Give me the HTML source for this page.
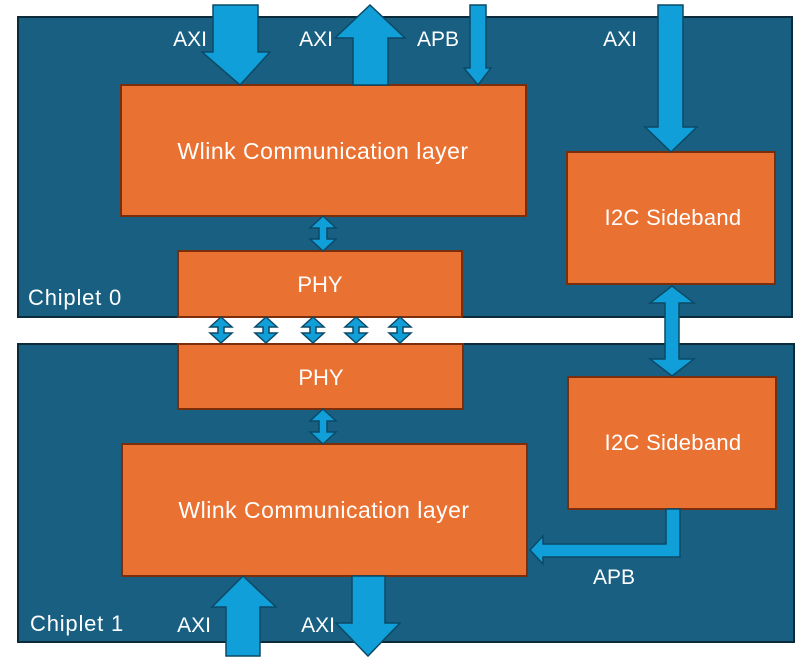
<!DOCTYPE html>
<html><head><meta charset="utf-8"><style>
html,body{margin:0;padding:0;background:#fff;}
svg{display:block;}
text{font-family:"Liberation Sans",sans-serif;fill:#fff;}
</style></head><body>
<svg width="810" height="662" viewBox="0 0 810 662" xmlns="http://www.w3.org/2000/svg">
<g stroke="#0b2a3a" stroke-width="2" fill="#185F82">
<rect x="18" y="17" width="774" height="300"/>
<rect x="18" y="344" width="776" height="298"/>
</g>
<g fill="#E97132" stroke="#7a2e0c" stroke-width="2">
<rect x="121" y="85" width="405" height="131"/>
<rect x="178" y="251" width="284" height="66"/>
<rect x="567" y="152" width="208" height="132"/>
<rect x="178" y="344" width="285" height="65"/>
<rect x="122" y="444" width="405" height="132"/>
<rect x="568" y="377" width="208" height="132"/>
</g>
<g fill="#109FD8" stroke="#0b4a66" stroke-width="1.5">
<polygon points="213,5 258,5 258,52 270,52 240,85 202,52 213,52"/>
<polygon points="370,5 405,38 388,38 388,85 353,85 353,38 335,38"/>
<polygon points="470,5 486,5 486,68 491,68 478,85 464,68 470,68"/>
<polygon points="658,5 683,5 683,127 697,127 671,152 645,127 658,127"/>
<polygon points="323,216 336,228 327,228 327,239 336,239 323,251 310,239 319,239 319,228 310,228"/>
<polygon points="323,409 336,421 327,421 327,432 336,432 323,444 310,432 319,432 319,421 310,421"/>
<polygon points="221,317 232,327 224,327 224,333 232,333 221,343 210,333 218,333 218,327 210,327"/>
<polygon points="266,317 277,327 269,327 269,333 277,333 266,343 255,333 263,333 263,327 255,327"/>
<polygon points="313,317 324,327 316,327 316,333 324,333 313,343 302,333 310,333 310,327 302,327"/>
<polygon points="356,317 367,327 359,327 359,333 367,333 356,343 345,333 353,333 353,327 345,327"/>
<polygon points="400,317 411,327 403,327 403,333 411,333 400,343 389,333 397,333 397,327 389,327"/>
<polygon points="672,286 694,303 679,303 679,359 694,359 672,376 650,359 665,359 665,303 650,303"/>
<polygon points="666,509 680,509 680,557 543,557 543,564 530,550 543,536 543,544 666,544"/>
<polygon points="243,576 276,607 260,607 260,656 226,656 226,607 212,607"/>
<polygon points="352,576 385,576 385,623 400,623 368,656 336,623 352,623"/>
</g>
<g font-size="22" text-anchor="middle">
<text x="323" y="159" font-size="23" letter-spacing="0.5">Wlink Communication layer</text>
<text x="324" y="518" font-size="23" letter-spacing="0.5">Wlink Communication layer</text>
<text x="320" y="292">PHY</text>
<text x="321" y="385">PHY</text>
<text x="673" y="225" letter-spacing="0.3">I2C Sideband</text>
<text x="673" y="450" letter-spacing="0.3">I2C Sideband</text>
<text x="190" y="46" font-size="21">AXI</text>
<text x="316" y="46" font-size="21">AXI</text>
<text x="438" y="46" font-size="21">APB</text>
<text x="620" y="46" font-size="21">AXI</text>
<text x="614" y="584" font-size="21">APB</text>
<text x="194" y="632" font-size="21">AXI</text>
<text x="318" y="632" font-size="21">AXI</text>
</g>
<g font-size="22" letter-spacing="0.8">
<text x="28" y="305">Chiplet 0</text>
<text x="30" y="631">Chiplet 1</text>
</g>
</svg>
</body></html>
